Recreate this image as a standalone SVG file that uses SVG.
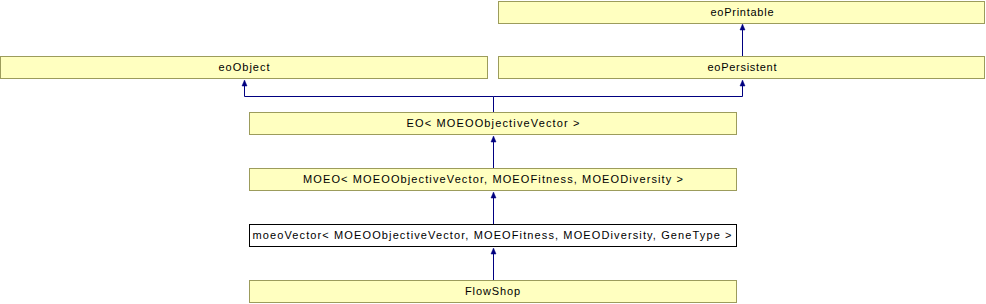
<svg xmlns="http://www.w3.org/2000/svg" width="986" height="304" viewBox="0 0 986 304">
<defs>
<style>
.n rect{fill:#ffffc0;stroke:#9c9c5c;stroke-width:1}
.n.w rect{fill:#ffffff;stroke:#000000}
.n text{font-family:"Liberation Sans",Arial,sans-serif;font-size:11px;fill:#000000;text-anchor:middle}
.e{fill:none;stroke:#000080;stroke-width:1}
.a{fill:#000080;stroke:#000080;stroke-width:0.5}
</style>
</defs>
<g id="connectors">
<path class="e" d="M742.5,57 V26"/>
<path class="e" d="M493.5,112 V96.5 H244.5 V82"/>
<path class="e" d="M493.5,96.5 H742.5 V82"/>
<path class="e" d="M493.5,168 V138"/>
<path class="e" d="M493.5,224 V194"/>
<path class="e" d="M493.5,280 V250"/>
<path class="a" d="M742.5,24 L740,30 L745,30 Z"/>
<path class="a" d="M244.5,80 L242,86 L247,86 Z"/>
<path class="a" d="M742.5,80 L740,86 L745,86 Z"/>
<path class="a" d="M493.5,136 L491,142 L496,142 Z"/>
<path class="a" d="M493.5,192 L491,198 L496,198 Z"/>
<path class="a" d="M493.5,248 L491,254 L496,254 Z"/>
</g>
<g id="eoPrintable" class="n"><rect x="498.5" y="1.5" width="486" height="22"/><text x="742" y="16" textLength="63" lengthAdjust="spacing">eoPrintable</text></g>
<g id="eoObject" class="n"><rect x="0.5" y="56.5" width="487" height="22"/><text x="244" y="71" textLength="51" lengthAdjust="spacing">eoObject</text></g>
<g id="eoPersistent" class="n"><rect x="498.5" y="56.5" width="486" height="22"/><text x="742" y="71" textLength="69" lengthAdjust="spacing">eoPersistent</text></g>
<g id="EO" class="n"><rect x="249.5" y="112.5" width="487" height="22"/><text x="493" y="127" textLength="173" lengthAdjust="spacing">EO&lt; MOEOObjectiveVector &gt;</text></g>
<g id="MOEO" class="n"><rect x="249.5" y="168.5" width="487" height="22"/><text x="493" y="183" textLength="380" lengthAdjust="spacing">MOEO&lt; MOEOObjectiveVector, MOEOFitness, MOEODiversity &gt;</text></g>
<g id="moeoVector" class="n w"><rect x="249.5" y="224.5" width="487" height="22"/><text x="492" y="239" textLength="479" lengthAdjust="spacing">moeoVector&lt; MOEOObjectiveVector, MOEOFitness, MOEODiversity, GeneType &gt;</text></g>
<g id="FlowShop" class="n"><rect x="249.5" y="280.5" width="487" height="22"/><text x="492.5" y="295" textLength="55" lengthAdjust="spacing">FlowShop</text></g>
</svg>
